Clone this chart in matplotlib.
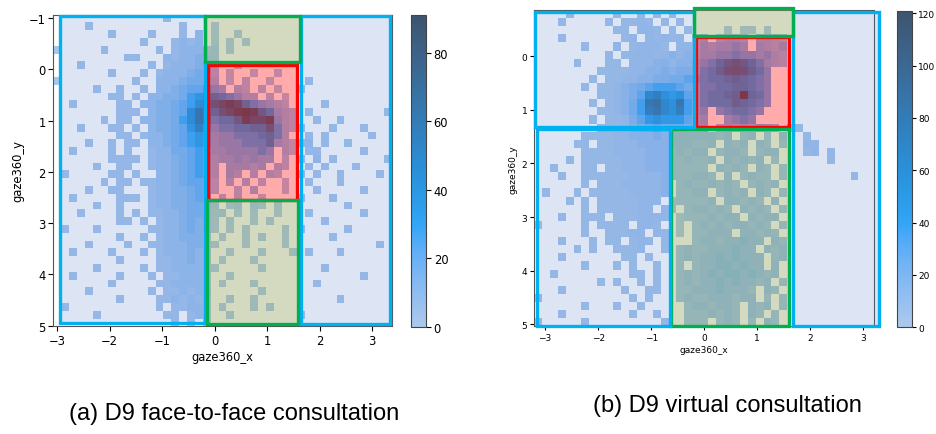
import numpy as np
import matplotlib
matplotlib.use("Agg")
import matplotlib.pyplot as plt
from matplotlib.patches import Rectangle
from matplotlib.colors import ListedColormap, LinearSegmentedColormap, to_rgba

# ---------------- data ----------------
# count level of each character (colour of a histogram cell as read)
LEVELS = {'.': 0, '1': 2, '2': 5, '3': 10, '4': 15, '5': 20, '6': 28, '7': 36,
          '8': 45, '9': 55, 'a': 65, 'b': 75, 'c': 85, 'd': 91, 'e': 105, 'f': 121}

# panel (a): face-to-face; rows from top (y=-1.065) to bottom (y=5.01)
A_X_RANGE = (-3.07, 3.37)
A_Y_RANGE = (-1.065, 5.01)
A_ROWS = [
    "..........|....1.....|...........|............",
    "....1.....|......1...|1..........|............",
    ".......1..|..1...1.2.|1..1.......|............",
    "..........|.1...1212.|1.1.1......|............",
    "1.....1...|...1.12221|2.1........|............",
    ".........1|1...212232|2..........|............",
    "...1......|..1.122233|2..1.......|............",
    ".......1..|.1.1222343|2.1..1..1..|............",
    "1.........|1..2223443|3.1.2..1...|.1..........",
    ".....1..1.|.1.2234556|54.32.2.1..|1...........",
    ".......11.|1.22334678|876533.2.1.|............",
    "..1.....11|.223345689|abcb865432.|...1........",
    "........11|1.233458a9|8abcdc97432|.1.........1",
    "......1.11|.2233468a9|6779cbbc532|..1..1......",
    "...1...11.|1.23345797|5667788a632|1...1...1...",
    "........11|.122345676|4556667863.|.1.1.....1..",
    "....1..1.1|1.22345676|45556668431|12.1..1.....",
    "..1....1.1|..12244565|44555565.31|.11.....1...",
    ".......111|1.12234565|34454544.2.|1.2.1......1",
    ".....1..11|..12234565|3.44434.32.|.1.1...1....",
    ".1.....11.|1..2234565|3.43.3.32..|1.1..1....1.",
    "......1.11|.112234554|2.3.3.2..1.|.1...1......",
    "....1..11.|..12233454|2..2.3...1.|..1.....1...",
    "..1.....11|1.12233454|.2.2..1....|1...1.......",
    ".....1..1.|..12233443|2.12.21.1..|......1.....",
    "...1....1.|1.11223443|12.1.1..1..|.1......1...",
    "........11|.1.1223433|1.1..1.1...|...1........",
    ".1...1....|..11223433|1.1.1....1.|1.....1.....",
    "........1.|.1.1223332|.1..1.1..1.|....1.......",
    "....1....1|..11222332|1...1....1.|..........1.",
    "..1....1..|.1.1222322|..1...1...1|.1...1......",
    "........1.|...1122322|.1...1.....|............",
    ".....1....|.1.1122222|1.....1....|...1........",
    "..1.....1.|..1.112221|..1........|........1...",
    ".......1..|...1122221|.1...1.....|..1.........",
    "....1.....|..1.112122|......1....|............",
    "........1.|...1121211|..1..1.....|.....1......",
    ".1........|...1.11221|.1...1.1...|............",
    ".....1....|....11.121|..1........|1...........",
    "..........|.....1.1.1|...........|............",
]

# panel (b): virtual; rows from top (y=-0.865) to bottom (y=5.04)
B_X_RANGE = (-3.21, 3.21)
B_Y_RANGE = (-0.865, 5.04)
B_ROWS = [
    "....1.....|1..1.1.1...|............|..........",
    "...1.....1|.1121.1.1..|............|..........",
    "..........|11.221.1.1.|...1.11.1...|..........",
    "...1......|.12.21212.1|4.3443.4432.|..........",
    "......1...|2.12221.221|545565.5435.|..........",
    ".........1|.1222123232|55667665643.|..........",
    ".....1...1|1.222332334|679bcb97543.|..........",
    "........11|11223343444|78acdca86...|..........",
    ".......1.1|12233445566|7889a9876...|..........",
    "......1.11|23456777654|778899876...|..........",
    "........11|2346ab98964|7889af986...|..........",
    ".......1.1|2357cda9c74|7888a9876...|..........",
    "........11|2357bca9b74|6.678876....|..........",
    ".......1.1|12468988863|5..5676.....|..........",
    "........11|12345655543|4.34343543.1|1.........",
    "......1111|22333434444|4434.34.3.4.|.1........",
    ".....11.11|22233334443|34.434.43.3.|.22.......",
    "......1111|22223333434|4.3443.344..|.12.1.....",
    "....1.1111|12223333343|34.43434.3..|....1.....",
    "..1...11.1|12223333333|3.4343.43.3.|..........",
    "...1..1111|11222233334|43.4.3433.3.|.......1..",
    "......1.11|1222223.343|34343.3434..|..........",
    ".1...1.111|1122223.334|4.3434.43.3.|..........",
    "....1.1.11|111222.2333|34.44343.4..|..........",
    "......1.11|11122.22.34|4343.4343.3.|..........",
    "...1..111.|1112222.133|34344.4344..|..........",
    "1.....1.11|11.221..1.3|434344343.3.|..........",
    "......1..1|1122.21.1.3|3444.44343..|..........",
    "...1...1.1|1.122.1...3|44344544.43.|..........",
    ".....1.1..|1112..1.343|3444544.434.|..........",
    "...1......|.11.1...343|44545444.34.|..........",
    "......1...|1.1..1..3.3|44554544.4..|..........",
    "..1.......|..11.1..343|4545545434..|..........",
    "........1.|1..1.1..343|445454434.3.|..........",
    "...1......|.1..11..334|4454443.43..|..........",
    "1.........|..1.1...343|3444344.3.3.|..........",
    "......1...|1..1.....34|43443.434.3.|..........",
    "...1......|..1..1...33|34343.43.3..|..........",
    "1.....1...|......1..33|3.343.3.43..|..........",
]

# areas of interest: (x0, y0, x1, y1, kind, zorder)
A_BOXES = [
    (-0.135, -0.083, 1.576, 2.54, "red", 3),
    (-2.94, -1.04, -0.18, 4.95, "blue", 4),
    (1.645, -1.04, 3.34, 4.97, "blue", 4),
    (-0.18, -1.04, 1.625, -0.15, "green", 5),
    (-0.15, 2.54, 1.58, 4.97, "green", 5),
]
B_BOXES = [
    (-0.154, -0.355, 1.60, 1.315, "red", 3),
    (-0.63, 1.36, 1.60, 5.04, "green", 3.5),
    (-3.19, -0.82, -0.19, 1.315, "blue", 4),
    (-3.16, 1.36, -0.65, 5.03, "blue", 4),
    (1.68, -0.82, 3.30, 5.03, "blue", 4),
    (-0.186, -0.90, 1.67, -0.385, "green", 5),
]

CAPTIONS = ["(a) D9 face-to-face consultation", "(b) D9 virtual consultation"]

# ---------------- styling ----------------
EDGE = {"blue": "#00b0f0", "green": "#00b050", "red": "#ff0000"}
FACE = {"blue": (68/255, 114/255, 196/255, 0.18),
        "green": (148/255, 167/255, 101/255, 0.41),
        "red": (1.0, 0.0, 0.0, 0.33)}


def seaborn_cmap(color):
    try:
        from seaborn.external import husl
        r, g, b, _ = to_rgba(color)
        h, s, _ = husl.rgb_to_husl(r, g, b)
        xx = np.linspace(-1, 1, int(1.15 * 256))[:256]
        ramp = np.zeros((256, 3))
        ramp[:, 0] = h
        ramp[:, 1] = s * np.cos(xx)
        ramp[:, 2] = np.linspace(35, 80, 256)
        cols = np.clip([husl.husl_to_rgb(*hsl) for hsl in ramp], 0, 1)
        return ListedColormap(cols[::-1])
    except Exception:
        return LinearSegmentedColormap.from_list(
            "c0", [(0, "#a5c6ee"), (0.43, "#2ea0f0"), (1, "#3a5068")])


CMAP = seaborn_cmap("#1f77b4")


def to_matrix(rows):
    mat = []
    for row in rows:
        mat.append([LEVELS[ch] for ch in row.replace("|", "")])
    n = {len(r) for r in mat}
    if len(n) != 1:
        raise ValueError("row lengths " + str([len(r) for r in mat]))
    return np.array(mat, dtype=float)


def panel(fig, ax_rect, cax_rect, rows, xr, yr, boxes, fs, yticks, ticklen):
    ax = fig.add_axes(ax_rect)
    cax = fig.add_axes(cax_rect)
    counts = to_matrix(rows)
    nr, nc = counts.shape
    xe = np.linspace(xr[0], xr[1], nc + 1)
    ye = np.linspace(yr[0], yr[1], nr + 1)
    masked = np.ma.masked_less_equal(counts, 0)
    mesh = ax.pcolormesh(xe, ye, masked, cmap=CMAP, vmin=0, vmax=counts.max(),
                         zorder=1)
    ax.set_xlim(xr)
    ax.set_ylim(yr[1], yr[0])
    ax.set_xticks(np.arange(-3, 4))
    ax.set_yticks(yticks)
    for x0, y0, x1, y1, kind, z in boxes:
        ax.add_patch(Rectangle((x0, y0), x1 - x0, y1 - y0,
                               facecolor=FACE[kind], edgecolor=EDGE[kind],
                               lw=2.4, zorder=z, clip_on=False,
                               joinstyle="miter"))
    ax.set_xlabel("gaze360_x", fontsize=fs, labelpad=2)
    ax.set_ylabel("gaze360_y", fontsize=fs, labelpad=3)
    ax.tick_params(labelsize=fs, length=ticklen, width=0.8, pad=2)
    for sp in ax.spines.values():
        sp.set_color("#555555")
    cb = fig.colorbar(mesh, cax=cax)
    cb.outline.set_edgecolor("#444444")
    cb.outline.set_linewidth(0.8)
    cax.tick_params(labelsize=fs, length=ticklen, width=0.8, pad=2)
    return ax


fig = plt.figure(figsize=(9.36, 4.35), dpi=100)
W, H = 936, 435


def rect(l, t, r, b):
    return [l / W, 1 - b / H, (r - l) / W, (b - t) / H]


panel(fig, rect(53.3, 15.7, 391.7, 327.3), rect(411, 16, 426, 328),
      A_ROWS, A_X_RANGE, A_Y_RANGE, A_BOXES, 8.3, np.arange(-1, 6), 3.5)
panel(fig, rect(534, 11, 874.3, 327.3), rect(896.7, 11.7, 911.7, 328.3),
      B_ROWS, B_X_RANGE, B_Y_RANGE, B_BOXES, 6.5, np.arange(0, 6), 2.7)

cap_font = ["Liberation Sans", "DejaVu Sans"]
fig.text(234 / W, 1 - 414 / H, CAPTIONS[0], ha="center", va="center",
         fontsize=17, family=cap_font)
fig.text(727 / W, 1 - 406 / H, CAPTIONS[1], ha="center", va="center",
         fontsize=17, family=cap_font)

fig.savefig("out.png", dpi=100)
